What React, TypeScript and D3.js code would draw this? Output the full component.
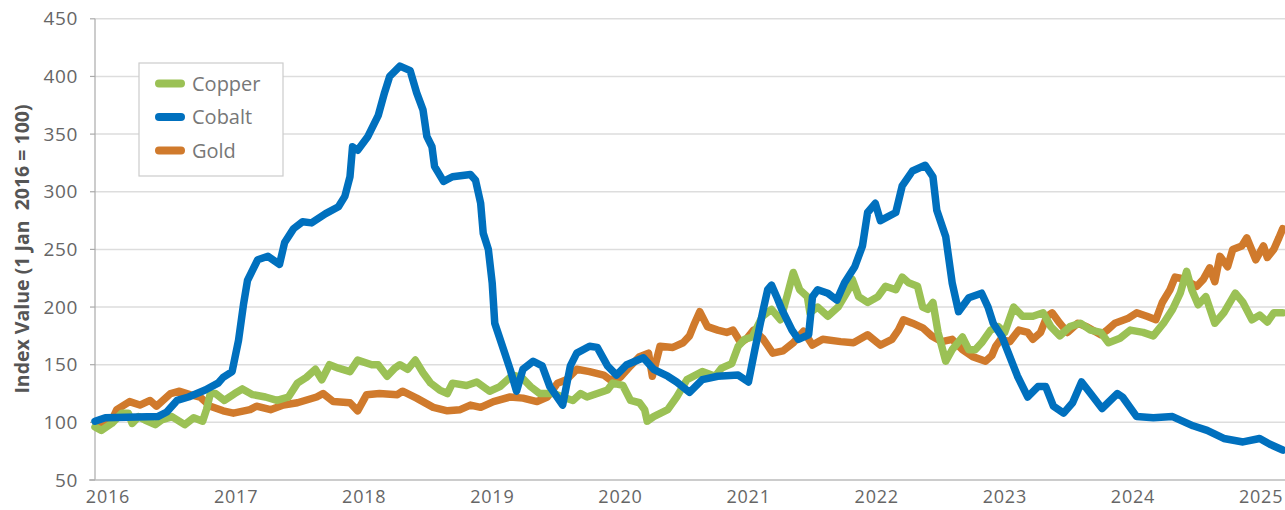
import React from "react";
import * as d3 from "d3";

// [decimal year, index value]
const copper: [number, number][] = [
  [2016.0, 96], [2016.05, 93], [2016.13, 99], [2016.21, 108], [2016.26, 108], [2016.29, 99], [2016.34, 105],
  [2016.39, 102], [2016.47, 98], [2016.52, 102], [2016.6, 105], [2016.7, 98], [2016.77, 104], [2016.84, 101],
  [2016.87, 111], [2016.9, 125], [2016.94, 125], [2017.01, 119], [2017.09, 125], [2017.15, 129], [2017.23, 124],
  [2017.33, 122], [2017.42, 119], [2017.51, 122], [2017.58, 134], [2017.65, 139], [2017.72, 146], [2017.77, 137],
  [2017.83, 150], [2017.9, 147], [2017.99, 144], [2018.05, 154], [2018.16, 150], [2018.21, 150], [2018.28, 140],
  [2018.34, 147], [2018.38, 150], [2018.44, 146], [2018.5, 154], [2018.56, 143], [2018.62, 134], [2018.69, 128],
  [2018.75, 125], [2018.79, 134], [2018.9, 132], [2018.98, 135], [2019.08, 127], [2019.16, 131], [2019.26, 141],
  [2019.33, 139], [2019.4, 131], [2019.47, 125], [2019.58, 125], [2019.65, 122], [2019.73, 119], [2019.79, 125],
  [2019.84, 122], [2019.92, 125], [2020.0, 128], [2020.04, 134], [2020.12, 132], [2020.18, 119], [2020.25, 117],
  [2020.29, 111], [2020.31, 101], [2020.36, 105], [2020.47, 111], [2020.54, 122], [2020.62, 137], [2020.74, 144],
  [2020.84, 140], [2020.89, 147], [2020.97, 151], [2021.02, 166], [2021.07, 172], [2021.13, 174], [2021.21, 192],
  [2021.28, 198], [2021.35, 189], [2021.4, 209], [2021.45, 230], [2021.5, 215], [2021.56, 209], [2021.58, 195],
  [2021.64, 200], [2021.72, 192], [2021.8, 200], [2021.88, 215], [2021.91, 224], [2021.96, 209], [2022.03, 204],
  [2022.11, 209], [2022.17, 218], [2022.25, 215], [2022.3, 226], [2022.35, 221], [2022.42, 218], [2022.46, 200],
  [2022.5, 198], [2022.54, 204], [2022.58, 178], [2022.64, 153], [2022.69, 163], [2022.77, 174], [2022.82, 163],
  [2022.87, 163], [2022.92, 169], [2022.99, 180], [2023.05, 183], [2023.1, 178], [2023.17, 200], [2023.24, 192],
  [2023.32, 192], [2023.4, 195], [2023.46, 183], [2023.53, 175], [2023.61, 183], [2023.69, 186], [2023.77, 180],
  [2023.85, 178], [2023.91, 169], [2024.0, 173], [2024.08, 180], [2024.18, 178], [2024.26, 175], [2024.34, 186],
  [2024.41, 198], [2024.47, 212], [2024.52, 231], [2024.56, 215], [2024.61, 202], [2024.67, 209], [2024.74, 186],
  [2024.81, 195], [2024.9, 212], [2024.96, 204], [2025.03, 189], [2025.09, 193], [2025.15, 187], [2025.2, 195],
  [2025.27, 195],
];

const cobalt: [number, number][] = [
  [2016.0, 101], [2016.08, 104], [2016.49, 105], [2016.56, 109], [2016.64, 119], [2016.73, 122], [2016.86, 128],
  [2016.96, 134], [2017.0, 139], [2017.07, 144], [2017.12, 171], [2017.16, 203], [2017.19, 223], [2017.27, 241],
  [2017.35, 244], [2017.44, 237], [2017.48, 256], [2017.55, 268], [2017.62, 274], [2017.69, 273], [2017.8, 281],
  [2017.9, 287], [2017.95, 296], [2017.99, 313], [2018.01, 339], [2018.05, 336], [2018.13, 348], [2018.21, 366],
  [2018.26, 386], [2018.3, 400], [2018.38, 409], [2018.46, 405], [2018.51, 386], [2018.56, 371], [2018.59, 348],
  [2018.63, 339], [2018.65, 322], [2018.72, 309], [2018.79, 313], [2018.93, 315], [2018.97, 310], [2019.01, 290],
  [2019.03, 264], [2019.07, 250], [2019.1, 221], [2019.12, 186], [2019.18, 166], [2019.24, 146], [2019.29, 127],
  [2019.34, 146], [2019.42, 153], [2019.49, 149], [2019.55, 131], [2019.65, 115], [2019.71, 149], [2019.76, 160],
  [2019.86, 166], [2019.92, 165], [2020.0, 149], [2020.07, 141], [2020.15, 150], [2020.28, 156], [2020.36, 146],
  [2020.47, 140], [2020.54, 135], [2020.64, 126], [2020.74, 137], [2020.86, 140], [2021.02, 141], [2021.1, 135],
  [2021.15, 163], [2021.21, 195], [2021.25, 215], [2021.28, 219], [2021.32, 209], [2021.36, 198], [2021.44, 180],
  [2021.49, 172], [2021.57, 176], [2021.6, 209], [2021.64, 215], [2021.72, 212], [2021.79, 206], [2021.85, 221],
  [2021.93, 235], [2021.99, 253], [2022.03, 282], [2022.09, 290], [2022.13, 275], [2022.25, 282], [2022.3, 305],
  [2022.38, 318], [2022.48, 323], [2022.54, 313], [2022.57, 284], [2022.64, 261], [2022.69, 221], [2022.74, 196],
  [2022.82, 208], [2022.92, 212], [2022.97, 200], [2023.01, 186], [2023.08, 174], [2023.14, 157], [2023.2, 140],
  [2023.28, 122], [2023.36, 131], [2023.42, 131], [2023.48, 114], [2023.56, 108], [2023.63, 117], [2023.7, 135],
  [2023.77, 125], [2023.86, 112], [2023.98, 125], [2024.02, 122], [2024.13, 105], [2024.26, 104], [2024.41, 105],
  [2024.57, 97], [2024.68, 93], [2024.81, 86], [2024.96, 83], [2025.09, 86], [2025.17, 81], [2025.27, 76],
];

const gold: [number, number][] = [
  [2016.02, 96], [2016.12, 99], [2016.17, 111], [2016.27, 118], [2016.35, 115], [2016.43, 119], [2016.48, 114],
  [2016.59, 125], [2016.66, 127], [2016.74, 124], [2016.82, 122], [2016.9, 114], [2016.95, 112], [2017.0, 110],
  [2017.08, 108], [2017.21, 111], [2017.26, 114], [2017.37, 111], [2017.47, 115], [2017.58, 117], [2017.73, 122],
  [2017.78, 125], [2017.86, 118], [2017.99, 117], [2018.05, 110], [2018.12, 124], [2018.22, 125], [2018.36, 124],
  [2018.4, 127], [2018.51, 121], [2018.64, 113], [2018.75, 110], [2018.85, 111], [2018.93, 115], [2019.01, 113],
  [2019.11, 118], [2019.24, 122], [2019.34, 121], [2019.45, 118], [2019.53, 122], [2019.61, 134], [2019.68, 137],
  [2019.76, 146], [2019.86, 144], [2019.97, 141], [2020.02, 137], [2020.1, 139], [2020.18, 149], [2020.25, 157],
  [2020.32, 160], [2020.35, 140], [2020.41, 166], [2020.51, 165], [2020.59, 169], [2020.64, 175], [2020.68, 186],
  [2020.72, 196], [2020.78, 183], [2020.86, 180], [2020.93, 178], [2020.98, 180], [2021.04, 169], [2021.09, 173],
  [2021.14, 180], [2021.21, 173], [2021.29, 160], [2021.37, 162], [2021.45, 169], [2021.53, 179], [2021.6, 167],
  [2021.68, 172], [2021.82, 170], [2021.92, 169], [2022.03, 176], [2022.13, 167], [2022.22, 172], [2022.27, 180],
  [2022.31, 189], [2022.38, 186], [2022.46, 182], [2022.53, 175], [2022.61, 170], [2022.69, 172], [2022.77, 163],
  [2022.85, 157], [2022.95, 153], [2023.0, 158], [2023.03, 166], [2023.07, 172], [2023.14, 170], [2023.21, 180],
  [2023.28, 178], [2023.32, 172], [2023.38, 178], [2023.43, 192], [2023.47, 195], [2023.53, 186], [2023.59, 178],
  [2023.67, 186], [2023.74, 183], [2023.85, 176], [2023.9, 180], [2023.96, 186], [2024.06, 190], [2024.13, 195],
  [2024.21, 192], [2024.28, 189], [2024.33, 204], [2024.39, 215], [2024.43, 226], [2024.47, 225], [2024.53, 222],
  [2024.6, 218], [2024.65, 224], [2024.7, 234], [2024.74, 222], [2024.78, 244], [2024.84, 235], [2024.88, 250],
  [2024.95, 253], [2024.99, 260], [2025.06, 241], [2025.12, 253], [2025.15, 243], [2025.2, 250], [2025.24, 260],
  [2025.27, 268],
];

const yTicks = [50, 100, 150, 200, 250, 300, 350, 400, 450];
const xTicks = [2016, 2017, 2018, 2019, 2020, 2021, 2022, 2023, 2024, 2025];

const seriesNames = ["Copper", "Cobalt", "Gold"];
const colors: Record<string, string> = { Copper: "#9BC155", Cobalt: "#0070BE", Gold: "#D07A2C" };
const drawOrder = ["Gold", "Copper", "Cobalt"];
const dataBy: Record<string, [number, number][]> = { Copper: copper, Cobalt: cobalt, Gold: gold };

const W = 1285;
const H = 510;
const FONT = "'Open Sans', sans-serif";

export default function App() {
  const x = d3.scaleLinear().domain([2016, 2025.28]).range([95, 1284]);
  const y = d3.scaleLinear().domain([50, 450]).range([480, 18.8]);
  const line = d3
    .line<[number, number]>()
    .x((d) => x(d[0]))
    .y((d) => y(d[1]))
    .curve(d3.curveLinear);

  return (
    <svg
      width={W}
      height={H}
      style={{ position: "absolute", left: 0, top: 0, background: "#fff" }}
      fontFamily={FONT}
    >
      {/* gridlines */}
      {yTicks.slice(1).map((t) => (
        <line key={t} x1={95} x2={W} y1={y(t)} y2={y(t)} stroke="#dddddd" strokeWidth={1.5} />
      ))}
      {/* axes */}
      <line x1={95} x2={95} y1={y(450)} y2={480} stroke="#aaaaaa" strokeWidth={1.2} />
      <line x1={89} x2={W} y1={480} y2={480} stroke="#bbbbbb" strokeWidth={1.5} />
      {yTicks.map((t) => (
        <g key={t}>
          <line x1={90} x2={95} y1={y(t)} y2={y(t)} stroke="#aaaaaa" strokeWidth={1.2} />
          <text
            x={78}
            y={y(t)}
            dy="0.35em"
            textAnchor="end"
            fontSize={19}
            letterSpacing={0.6}
            fill="#666"
          >
            {t}
          </text>
        </g>
      ))}
      {xTicks.map((t) => (
        <text key={t} x={x(t) + 13} y={503} textAnchor="middle" fontSize={18} letterSpacing={0.8} fill="#666">
          {t}
        </text>
      ))}
      <text
        transform={`translate(29,249) rotate(-90)`}
        textAnchor="middle"
        fontSize={19.5}
        fontWeight="bold"
        fill="#555"
        style={{ whiteSpace: "pre" }}
      >
        {"Index Value (1 Jan  2016 = 100)"}
      </text>

      {/* lines */}
      {drawOrder.map((name) => (
        <path
          key={name}
          d={line(dataBy[name]) || ""}
          fill="none"
          stroke={colors[name]}
          strokeWidth={7.5}
          strokeLinejoin="round"
          strokeLinecap="round"
        />
      ))}

      {/* legend */}
      <rect x={139} y={63} width={144} height={113} fill="#fff" stroke="#cccccc" strokeWidth={1.2} />
      {seriesNames.map((name, i) => {
        const cy = 83.5 + i * 33.5;
        return (
          <g key={name}>
            <line x1={159} x2={181} y1={cy} y2={cy} stroke={colors[name]} strokeWidth={8} strokeLinecap="round" />
            <text x={192} y={cy} dy="0.36em" fontSize={20} fill="#777">
              {name}
            </text>
          </g>
        );
      })}
    </svg>
  );
}
